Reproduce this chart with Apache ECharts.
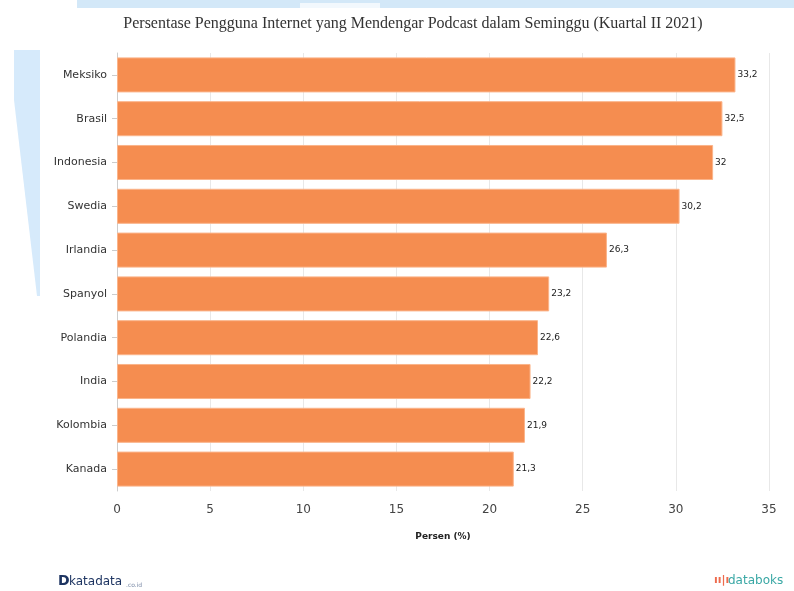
<!DOCTYPE html>
<html><head><meta charset="utf-8">
<script src="https://cdn.jsdelivr.net/npm/echarts@6/dist/echarts.min.js"></script>
<style>html,body{margin:0;padding:0;background:#fff}#c{width:794px;height:591px}</style>
</head><body><div id="c"></div>
<script>
const categories = ["Meksiko","Brasil","Indonesia","Swedia","Irlandia","Spanyol","Polandia","India","Kolombia","Kanada"];
const values = [33.2,32.5,32,30.2,26.3,23.2,22.6,22.2,21.9,21.3];
const titleText = "Persentase Pengguna Internet yang Mendengar Podcast dalam Seminggu (Kuartal II 2021)";
const axisName = "Persen (%)";

const chart = echarts.init(document.getElementById('c'), null, {renderer:'canvas'});
chart.setOption({
  animation:false,
  title:{text:titleText,left:408,top:11,textAlign:'center',
    textStyle:{fontFamily:'Liberation Serif',fontWeight:'normal',fontSize:16,color:'#333'}},
  graphic:[
    {type:'rect',shape:{x:77,y:0,width:717,height:8},style:{fill:'#d3e8f8'},z:-1},
    {type:'rect',shape:{x:300,y:3,width:80,height:5},style:{fill:'#f2f8fd'},z:-1},
    {type:'polygon',shape:{points:[[14,50],[40,50],[40,296],[37,296],[14,100]]},style:{fill:'#d6eafb'},z:-1},
    {type:'text',left:58,top:574,style:{text:'D',font:'bold 14px DejaVu Sans',fill:'#1d3461'}},
    {type:'text',left:69,top:576,style:{text:'katadata',font:'12px DejaVu Sans',fill:'#1d3461'}},
    {type:'text',left:126,top:582,style:{text:'.co.id',font:'6px DejaVu Sans',fill:'#7a8aa6'}},
    {type:'text',left:714,top:575,style:{text:'ıı|ı',font:'bold 11px DejaVu Sans',fill:'#ee6b4d'}},
    {type:'text',left:728,top:575,style:{text:'databoks',font:'12px DejaVu Sans',fill:'#3aa8a5'}}
  ],
  grid:{left:117,right:25,top:53,bottom:100,containLabel:false},
  xAxis:{type:'value',min:0,max:35,interval:5,
    name:axisName,nameLocation:'middle',nameGap:41,
    nameTextStyle:{fontFamily:'DejaVu Sans',fontWeight:'bold',fontSize:9,color:'#222'},
    axisLine:{show:false},axisTick:{show:false},
    axisLabel:{fontFamily:'DejaVu Sans',fontSize:12,color:'#444',margin:13},
    splitLine:{show:true,lineStyle:{color:'#e8e8e8',width:1}}},
  yAxis:{type:'category',data:categories,inverse:true,
    axisLine:{show:true,lineStyle:{color:'#ccc'}},
    axisTick:{show:true,length:5,alignWithLabel:true,lineStyle:{color:'#ccc'}},
    axisLabel:{fontFamily:'DejaVu Sans',fontSize:11,color:'#333',margin:10},
    splitLine:{show:false}},
  series:[{type:'bar',data:values,barCategoryGap:'20%',
    itemStyle:{color:'#f58d50',borderColor:'#fbb48a',borderWidth:1},
    label:{show:true,position:'right',distance:2,fontFamily:'DejaVu Sans',fontSize:9,color:'#222',
      formatter:p=>String(p.value).replace('.',',')}}]
});
</script></body></html>
